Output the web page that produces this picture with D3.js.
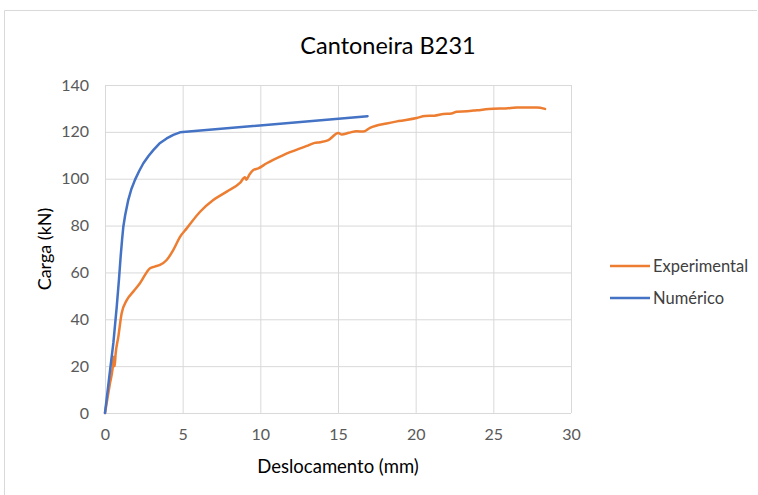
<!DOCTYPE html>
<html>
<head>
<meta charset="utf-8">
<script src="https://cdn.jsdelivr.net/npm/d3@7"></script>
<style>
	body { margin: 0; background: #fff; }
	text { font-family: Lato, "Open Sans", sans-serif; }
</style>
</head>
<body>
<div id="chart"></div>
<script>

var width = 758,
	height = 495,
	margin = {top: 85, right: 187, bottom: 82, left: 105};

var title = "Cantoneira B231",
	xlabel = "Deslocamento (mm)",
	ylabel = "Carga (kN)";

var xticks = [0, 5, 10, 15, 20, 25, 30],
	yticks = [0, 20, 40, 60, 80, 100, 120, 140];

// series: [deslocamento, carga]

var experimental = [
	[0, 0], [0.32, 12.7], [0.49, 19], [0.56, 24], [0.62, 20], [0.68, 25], [0.86, 32.6],
	[1.07, 42.5], [1.4, 48.2], [1.82, 51.8], [2.25, 55.4], [2.9, 61.8], [3.2, 62.5],
	[3.54, 63.2], [3.97, 65.3], [4.4, 69.6], [4.83, 75.2], [5.26, 78.8], [6.12, 85.9],
	[6.97, 90.9], [7.84, 94.5], [8.69, 98.2], [9.01, 100.6], [9.1, 99.6], [9.3, 101.8],
	[9.55, 103.7], [9.87, 104.4], [10.41, 106.6], [11.48, 110.1], [12.99, 114],
	[13.5, 115.3], [13.84, 115.6], [14.38, 116.5], [15.02, 119.5], [15.24, 118.9],
	[15.7, 119.6], [16.2, 120.3], [16.63, 120.1], [17.06, 121.7], [18.13, 123.6],
	[18.9, 124.6], [20.07, 125.9], [20.6, 126.8], [21.2, 126.9], [21.78, 127.6],
	[22.3, 127.8], [22.64, 128.6], [23.3, 128.8], [23.93, 129.2], [25, 129.9],
	[25.8, 130], [26.5, 130.4], [27.8, 130.4], [28.33, 129.8]
];

var numerico = [
	[0, 0], [0.25, 14], [0.54, 30], [0.75, 45], [0.9, 57], [1.01, 67], [1.1, 74],
	[1.18, 79.5], [1.3, 84.5], [1.5, 91], [1.7, 95.6], [1.93, 99.5], [2.2, 103.3],
	[2.47, 106.6], [2.8, 109.7], [3.11, 112.2], [3.5, 115], [3.97, 117.2], [4.4, 118.7],
	[4.83, 119.8], [16.9, 126.7]
];

var series = [
	{name: "Experimental", color: "#ED7D31", data: experimental, curve: d3.curveMonotoneX},
	{name: "Numérico", color: "#4472C4", data: numerico, curve: d3.curveLinear}
];

// scales

var X = d3.scaleLinear().domain([0, 30]).range([margin.left, width - margin.right]);
var Y = d3.scaleLinear().domain([0, 140]).range([height - margin.bottom, margin.top]);

var svg = d3.select("#chart").append("svg")
	.attr("width", width)
	.attr("height", height);

// chart frame

svg.append("path")
	.attr("d", "M4.5," + height + "V10.5H" + (width - 1))
	.attr("fill", "none")
	.attr("stroke", "#d9d9d9")
	.attr("stroke-width", 1);

// gridlines

svg.append("g")
	.attr("transform", "translate(0," + Y(0) + ")")
	.call(d3.axisBottom(X).tickValues(xticks).tickSize(-(Y(0) - Y(140))).tickFormat(""))
	.call(function(g){
		g.select(".domain").remove();
		g.selectAll("line").attr("stroke", "#d9d9d9").attr("stroke-width", 1);
	});

svg.append("g")
	.attr("transform", "translate(" + X(0) + ",0)")
	.call(d3.axisLeft(Y).tickValues(yticks).tickSize(-(X(30) - X(0))).tickFormat(""))
	.call(function(g){
		g.select(".domain").remove();
		g.selectAll("line").attr("stroke", "#d9d9d9").attr("stroke-width", 1);
	});

// tick labels

svg.append("g")
	.attr("transform", "translate(0," + Y(0) + ")")
	.call(d3.axisBottom(X).tickValues(xticks).tickSize(0).tickPadding(16))
	.call(function(g){
		g.select(".domain").remove();
		g.selectAll("text").attr("fill", "#595959").style("font-size", "16px");
	});

svg.append("g")
	.attr("transform", "translate(" + X(0) + ",0)")
	.call(d3.axisLeft(Y).tickValues(yticks).tickSize(0).tickPadding(16))
	.call(function(g){
		g.select(".domain").remove();
		g.selectAll("text").attr("fill", "#595959").style("font-size", "16px");
	});

// lines

svg.selectAll(".series").data(series).enter().append("path")
	.attr("class", "series")
	.attr("d", function(d){
		return d3.line()
			.x(function(p){ return X(p[0]); })
			.y(function(p){ return Y(p[1]); })
			.curve(d.curve)(d.data);
	})
	.attr("fill", "none")
	.attr("stroke", function(d){ return d.color; })
	.attr("stroke-width", 2.5)
	.attr("stroke-linejoin", "round")
	.attr("stroke-linecap", "round");

// titles

svg.append("text")
	.attr("x", 388).attr("y", 54)
	.attr("text-anchor", "middle")
	.attr("fill", "#000")
	.style("font-size", "23.5px")
	.text(title);

svg.append("text")
	.attr("x", 338).attr("y", 473)
	.attr("text-anchor", "middle")
	.attr("fill", "#000")
	.style("font-size", "18.5px")
	.text(xlabel);

svg.append("text")
	.attr("transform", "translate(51," + Y(70) + ") rotate(-90)")
	.attr("text-anchor", "middle")
	.attr("fill", "#000")
	.style("font-size", "18px")
	.text(ylabel);

// legend

var legend = svg.selectAll(".legend").data(series).enter().append("g")
	.attr("class", "legend")
	.attr("transform", function(d, i){ return "translate(610," + (266 + i * 32) + ")"; });

legend.append("line")
	.attr("x1", 0).attr("x2", 40)
	.attr("stroke", function(d){ return d.color; })
	.attr("stroke-width", 2.5);

legend.append("text")
	.attr("x", 43).attr("y", 6)
	.attr("fill", "#404040")
	.style("font-size", "16.5px")
	.text(function(d){ return d.name; });

</script>
</body>
</html>
